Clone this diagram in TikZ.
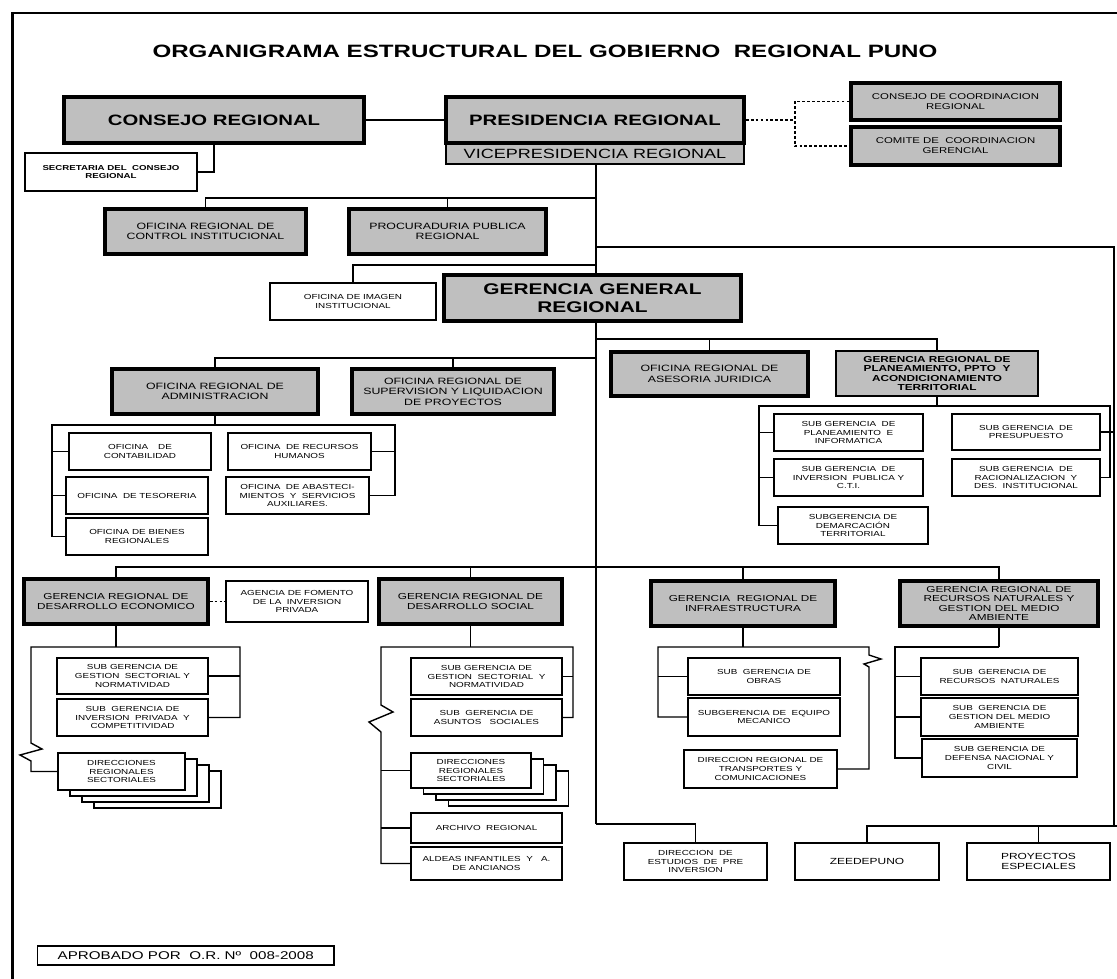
\documentclass[tikz,border=0pt]{standalone}
\usepackage{fontspec}
\setmainfont[FakeStretch=1.35]{Liberation Sans}
\definecolor{gris}{gray}{0.75}

\begin{document}
\begin{tikzpicture}[x=0.025cm, y=-0.025cm,
	caja/.style 2 args={minimum width=#1*0.025cm, minimum height=#2*0.025cm},
	conn/.style={line width=1pt},
	punteado/.style={line width=1pt, dash pattern=on 2pt off 1.5pt},
	grande/.style={draw, line width=2.6pt, fill=gris, inner sep=0pt, align=center, font=\bfseries\fontsize{10.7}{12.5}\selectfont},
	media/.style={draw, line width=2.4pt, fill=gris, inner sep=0pt, align=center, font=\fontsize{6.5}{7.4}\selectfont},
	chica/.style={draw, line width=1.1pt, fill=white, inner sep=0pt, align=center, font=\fontsize{5.2}{6.3}\selectfont},
	pila/.style={line width=1.1pt, fill=white}]
	\useasboundingbox (0,0) rectangle (1117,979);
	
	% marco
	\draw [line width=2pt] (12.5,979) -- (12.5,13) -- (1117,13);
	
	\node [font=\bfseries\fontsize{12.7}{14}\selectfont] (titulo) at (545,51)
	{ORGANIGRAMA ESTRUCTURAL DEL GOBIERNO \ REGIONAL PUNO};
	
	% lineas
	\coordinate (b1) at (596,198);
	\coordinate (b2) at (596,265);
	\coordinate (b3) at (596,358);
	\coordinate (b4) at (596,339);
	\coordinate (b5) at (596,567);
	\coordinate (b6) at (596,824);
	\coordinate (b7) at (1114,826);
	
	\draw [conn] (596,164) -- (b6);
	\draw [conn] (596,247) -| (b7);
	\draw [conn] (b7) -- (1117,826);
	
	\node [grande, caja={300}{46}] (consejo) at (214,120) {CONSEJO REGIONAL};
	\node [draw, line width=1pt, fill=gris, inner sep=0pt, font=\fontsize{9.5}{10}\selectfont,
	caja={298}{21}] (vice) at (595,153.5) {VICEPRESIDENCIA REGIONAL};
	\node [grande, caja={298}{46}] (presidencia) at (595,120) {PRESIDENCIA REGIONAL};
	\node [chica, font=\bfseries\fontsize{5.1}{6}\selectfont, caja={172}{38}] (secretaria) at (111,172)
	{SECRETARIA DEL \ CONSEJO\\REGIONAL};
	\node [media, font=\fontsize{6}{7}\selectfont, caja={209}{37}] (ccr) at (955.5,101.5)
	{CONSEJO DE COORDINACION\\REGIONAL};
	\node [media, font=\fontsize{6}{7}\selectfont, caja={209}{38}] (ccg) at (955.5,146)
	{COMITE DE \ COORDINACION\\GERENCIAL};
	
	\draw [conn] (consejo.east) -- (presidencia.west);
	\draw [conn] (consejo.south) |- (secretaria.east);
	\draw [punteado] (presidencia.east) -- (795,120) coordinate (dj);
	\draw [punteado] (ccr.west) -| (dj) |- (ccg.west);
	
	\node [media, caja={201}{45}] (control) at (205.5,231.5) {OFICINA REGIONAL DE\\CONTROL INSTITUCIONAL};
	\node [media, caja={197}{45}] (procuraduria) at (447.5,231.5) {PROCURADURIA PUBLICA\\REGIONAL};
	\draw [conn] (control.north) |- (b1);
	\draw [conn] (procuraduria.north) -- (procuraduria.north |- b1);
	
	\node [chica, caja={166}{37}] (imagen) at (353,301.5) {OFICINA DE IMAGEN\\INSTITUCIONAL};
	\draw [conn] (imagen.north) |- (b2);
	\node [grande, font=\bfseries\fontsize{11}{12.5}\selectfont, caja={297}{46}] (ggr) at (592.5,298)
	{GERENCIA GENERAL\\REGIONAL};
	
	\node [media, caja={206}{45}] (adm) at (215,391.5) {OFICINA REGIONAL DE\\ADMINISTRACION};
	\node [media, caja={202}{45}] (supervision) at (453,391.5)
	{OFICINA REGIONAL DE\\SUPERVISION Y LIQUIDACION\\DE PROYECTOS};
	\node [media, caja={197}{44}] (asesoria) at (709.5,374) {OFICINA REGIONAL DE\\ASESORIA JURIDICA};
	\node [media, line width=1.6pt, font=\bfseries\fontsize{6.2}{6.8}\selectfont, caja={202}{45}] (planeamiento) at (937,373.5)
	{GERENCIA REGIONAL DE\\PLANEAMIENTO, PPTO \ Y\\ACONDICIONAMIENTO\\TERRITORIAL};
	\draw [conn] (adm.north) |- (b3);
	\draw [conn] (supervision.north) -- (supervision.north |- b3);
	\draw [conn] (planeamiento.north) |- (b4);
	\draw [conn] (asesoria.north) -- (asesoria.north |- b4);
	
	% administracion
	\node [chica, caja={142}{37}] (contabilidad) at (140,451.5) {OFICINA \quad DE\\CONTABILIDAD};
	\node [chica, caja={142}{37}] (tesoreria) at (137,495.5) {OFICINA \ DE TESORERIA};
	\node [chica, caja={142}{37}] (bienes) at (137,536.5) {OFICINA DE BIENES\\REGIONALES};
	\node [chica, caja={143}{37}] (rrhh) at (299.5,451.5) {OFICINA \ DE RECURSOS\\HUMANOS};
	\node [chica, caja={143}{37}] (abastecimientos) at (297.5,495.5)
	{OFICINA \ DE ABASTECI-\\MIENTOS \ Y \ SERVICIOS\\AUXILIARES.};
	\draw [conn] (adm.south) -- (adm.south |- 0,425);
	\draw [conn] (bienes.west) -| (52,425) -- (395,425) |- (abastecimientos.east);
	\draw [conn] (contabilidad.west) -- (contabilidad.west -| 52,0);
	\draw [conn] (tesoreria.west) -- (tesoreria.west -| 52,0);
	\draw [conn] (rrhh.east) -- (rrhh.east -| 395,0);
	
	% planeamiento
	\node [chica, caja={149}{37}] (planinf) at (848.5,432.5) {SUB GERENCIA \ DE\\PLANEAMIENTO \ E\\INFORMATICA};
	\node [chica, caja={149}{37}] (invpub) at (848.5,477.5) {SUB GERENCIA \ DE\\INVERSION \ PUBLICA Y\\C.T.I.};
	\node [chica, caja={150}{37}] (demarcacion) at (853,525.5) {SUBGERENCIA DE\\DEMARCACIÓN\\TERRITORIAL};
	\node [chica, caja={148}{36}] (presupuesto) at (1026,432) {SUB GERENCIA \ DE\\PRESUPUESTO};
	\node [chica, caja={148}{37}] (racionalizacion) at (1026,477.5)
	{SUB GERENCIA \ DE\\RACIONALIZACION \ Y\\DES. \ INSTITUCIONAL};
	\draw [conn] (planeamiento.south) -- (planeamiento.south |- 0,406);
	\draw [conn] (demarcacion.west) -| (759,406) -- (1110,406) |- (racionalizacion.east);
	\draw [conn] (planinf.west) -- (planinf.west -| 759,0);
	\draw [conn] (invpub.west) -- (invpub.west -| 759,0);
	\draw [conn] (presupuesto.east) -- (presupuesto.east -| 1115,0);
	
	% gerencias de linea
	\node [media, font=\fontsize{6.2}{7.1}\selectfont, caja={184}{45}] (grde) at (116,601.5)
	{GERENCIA REGIONAL DE\\DESARROLLO ECONOMICO};
	\node [chica, caja={142}{41}] (agencia) at (297,601.5) {AGENCIA DE FOMENTO\\DE LA \ INVERSION\\PRIVADA};
	\node [media, font=\fontsize{6.2}{7.1}\selectfont, caja={183}{45}] (grds) at (470.5,601.5)
	{GERENCIA REGIONAL DE\\DESARROLLO SOCIAL};
	\node [media, font=\fontsize{6.2}{7.1}\selectfont, caja={184}{45}] (infra) at (743,603.5)
	{GERENCIA \ REGIONAL DE\\INFRAESTRUCTURA};
	\node [media, font=\fontsize{6.2}{6.7}\selectfont, caja={198}{45}] (rrnn) at (999,603.5)
	{GERENCIA REGIONAL DE\\RECURSOS NATURALES Y\\GESTION DEL MEDIO\\AMBIENTE};
	\draw [conn] (grde.north) |- (rrnn.north |- b5) -- (rrnn.north);
	\draw [conn] (grds.north) -- (grds.north |- b5);
	\draw [conn] (infra.north) -- (infra.north |- b5);
	\draw [punteado] (grde.east) -- (agencia.west);
	
	% desarrollo economico
	\node [chica, caja={151}{36}] (gestsecE) at (132.5,676) {SUB GERENCIA DE\\GESTION \ SECTORIAL Y\\NORMATIVIDAD};
	\node [chica, caja={151}{37}] (invpriv) at (132.5,717.5) {SUB \ GERENCIA DE\\INVERSION \ PRIVADA \ Y\\COMPETITIVIDAD};
	\foreach \i in {3,2,1}
	\draw [pila] (58+12*\i,753+6*\i) rectangle (185+12*\i,790+6*\i);
	\node [chica, caja={127}{37}] (direcE) at (121.5,771.5) {DIRECCIONES\\REGIONALES\\SECTORIALES};
	\draw [conn] (grde.south) -- (grde.south |- 0,647);
	\draw [conn] (invpriv.east) -| (240,647) -- (31,647) -- (31,743) -- (42,749) -- (20,755) -- (31,761) |- (direcE.west);
	\draw [conn] (gestsecE.east) -- (gestsecE.east -| 240,0);
	
	% desarrollo social
	\node [chica, caja={151}{37}] (gestsecS) at (486.5,676.5) {SUB GERENCIA DE\\GESTION \ SECTORIAL \ Y\\NORMATIVIDAD};
	\node [chica, caja={151}{37}] (asuntos) at (486.5,717.5) {SUB \ GERENCIA DE\\ASUNTOS \ \ SOCIALES};
	\foreach \i in {3,2,1}
	\draw [pila] (411+12.5*\i,753+6*\i) rectangle (531+12.5*\i,788+6*\i);
	\node [chica, caja={120}{35}] (direcS) at (471,770.5) {DIRECCIONES\\REGIONALES\\SECTORIALES};
	\node [chica, caja={151}{30}] (archivo) at (486.5,828) {ARCHIVO \ REGIONAL};
	\node [chica, caja={151}{33}] (aldeas) at (486.5,863.5) {ALDEAS INFANTILES \ Y \ \ A.\\DE ANCIANOS};
	\draw [conn] (grds.south) -- (grds.south |- 0,647);
	\draw [conn] (asuntos.east) -| (573,647) -- (381,647) -- (381,705) -- (393,712) -- (369,722) -- (381,732) |- (aldeas.west);
	\draw [conn] (gestsecS.east) -- (gestsecS.east -| 573,0);
	\draw [conn] (direcS.west) -- (direcS.west -| 381,0);
	\draw [conn] (archivo.west) -- (archivo.west -| 381,0);
	
	% infraestructura
	\node [chica, caja={152}{37}] (obras) at (764,676.5) {SUB \ GERENCIA DE\\OBRAS};
	\node [chica, caja={152}{38}] (equipo) at (764,717) {SUBGERENCIA DE \ EQUIPO\\MECANICO};
	\node [chica, caja={153}{38}] (transportes) at (760.5,769) {DIRECCION REGIONAL DE\\TRANSPORTES Y\\COMUNICACIONES};
	\draw [conn] (infra.south) -- (infra.south |- 0,647);
	\draw [conn] (equipo.west) -| (658,647) -- (869,647) -- (869,655) -- (881,659) -- (864,664) -- (869,667) |- (transportes.east);
	\draw [conn] (obras.west) -- (obras.west -| 658,0);
	
	% recursos naturales
	\node [chica, caja={157}{37}] (subrrnn) at (999.5,676.5) {SUB \ GERENCIA DE\\RECURSOS \ NATURALES};
	\node [chica, caja={157}{38}] (medioamb) at (999.5,717) {SUB \ GERENCIA DE\\GESTION DEL MEDIO\\AMBIENTE};
	\node [chica, caja={155}{38}] (defensa) at (999.5,758) {SUB GERENCIA DE\\DEFENSA NACIONAL Y\\CIVIL};
	\draw [conn] (rrnn.south) -- (rrnn.south |- 0,647);
	\draw [conn] (defensa.west) -| (895,647) -- (rrnn.south |- 0,647);
	\draw [conn] (subrrnn.west) -- (subrrnn.west -| 895,0);
	\draw [conn] (medioamb.west) -- (medioamb.west -| 895,0);
	
	% organos desconcentrados
	\node [chica, caja={143}{37}] (estudios) at (695.5,861.5) {DIRECCION \ DE\\ESTUDIOS \ DE \ PRE\\INVERSION};
	\node [chica, font=\fontsize{6.3}{7.3}\selectfont, caja={144}{37}] (zeedepuno) at (867,861.5) {ZEEDEPUNO};
	\node [chica, font=\fontsize{6.3}{7.3}\selectfont, caja={143}{37}] (proyectos) at (1038.5,861.5) {PROYECTOS\\ESPECIALES};
	\draw [conn] (b6) -| (estudios.north);
	\draw [conn] (b7) -| (zeedepuno.north);
	\draw [conn] (proyectos.north) -- (proyectos.north |- b7);
	
	\node [chica, line width=0.8pt, font=\fontsize{8}{9}\selectfont, caja={296.5}{19}] (aprobado) at (185.75,955.5)
	{APROBADO POR \ O.R. Nº \ 008-2008};
\end{tikzpicture}
\end{document}
